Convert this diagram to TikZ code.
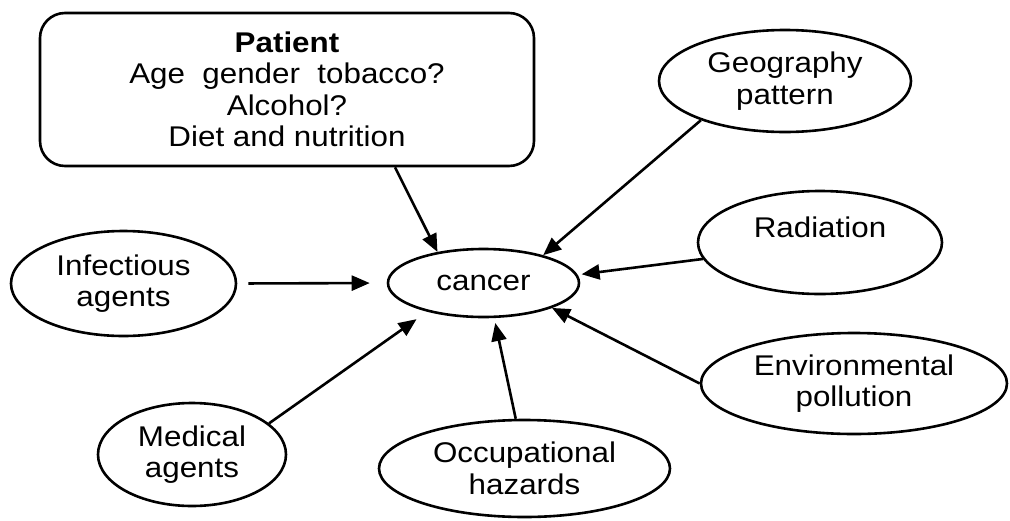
\documentclass[tikz,border=0pt]{standalone}
\usepackage{fontspec}
\setmainfont{Liberation Sans}[FakeStretch=1.1]
\usetikzlibrary{shapes.geometric,arrows.meta}
\begin{document}
\begin{tikzpicture}[x=1pt,y=-1pt,
  label font/.style={font=\fontsize{28.5}{31.5}\selectfont},
  factor/.style={ellipse, draw, line width=2.6pt, inner sep=0pt, align=center, label font},
  panel/.style={draw, rounded corners=25pt, line width=2.6pt, inner sep=0pt, align=center, label font},
  cause/.style={-{Triangle[length=18pt,width=15pt]}, line width=2.6pt}]
\useasboundingbox (0,0) rectangle (1010,520);

% central outcome
\node[factor, minimum width=191pt, minimum height=68pt] (cancer) at (483.5,283) {cancer};

% risk factors around it
\node[panel, minimum width=494pt, minimum height=153pt] (pat) at (287,89.5)
  {\textbf{Patient}\\Age~ gender~ tobacco?\\Alcohol?\\Diet and nutrition};
\node[factor, minimum width=252pt, minimum height=102pt] (geo) at (785,81) {Geography\\pattern};
\node[factor, minimum width=244pt, minimum height=103pt] (rad) at (820,242.5) {Radiation\\\mbox{}};
\node[factor, minimum width=306pt, minimum height=101pt] (env) at (854,383.5) {Environmental\\pollution};
\node[factor, minimum width=291pt, minimum height=97pt] (occ) at (524.5,468.5) {Occupational\\hazards};
\node[factor, minimum width=188pt, minimum height=103pt] (med) at (192,454.5) {Medical\\agents};
\node[factor, minimum width=225pt, minimum height=105pt] (inf) at (123.5,283.5) {Infectious\\agents};

% influences
\draw[cause] ([xshift=108pt]pat.south) -- (cancer.146);
\draw[cause] (geo.205) -- (cancer.25);
\draw[cause, shorten >=4pt] (rad.188) -- (cancer.5);
\draw[cause] (env.west) -- (cancer.340);
\draw[cause, shorten >=5pt] (occ.100) -- (cancer.287);
\draw[cause, shorten >=13pt] (med.22) -- (cancer.207);
\draw[cause, shorten <=11pt, shorten >=17pt] (inf.east) -- (cancer.west);
\end{tikzpicture}
\end{document}
